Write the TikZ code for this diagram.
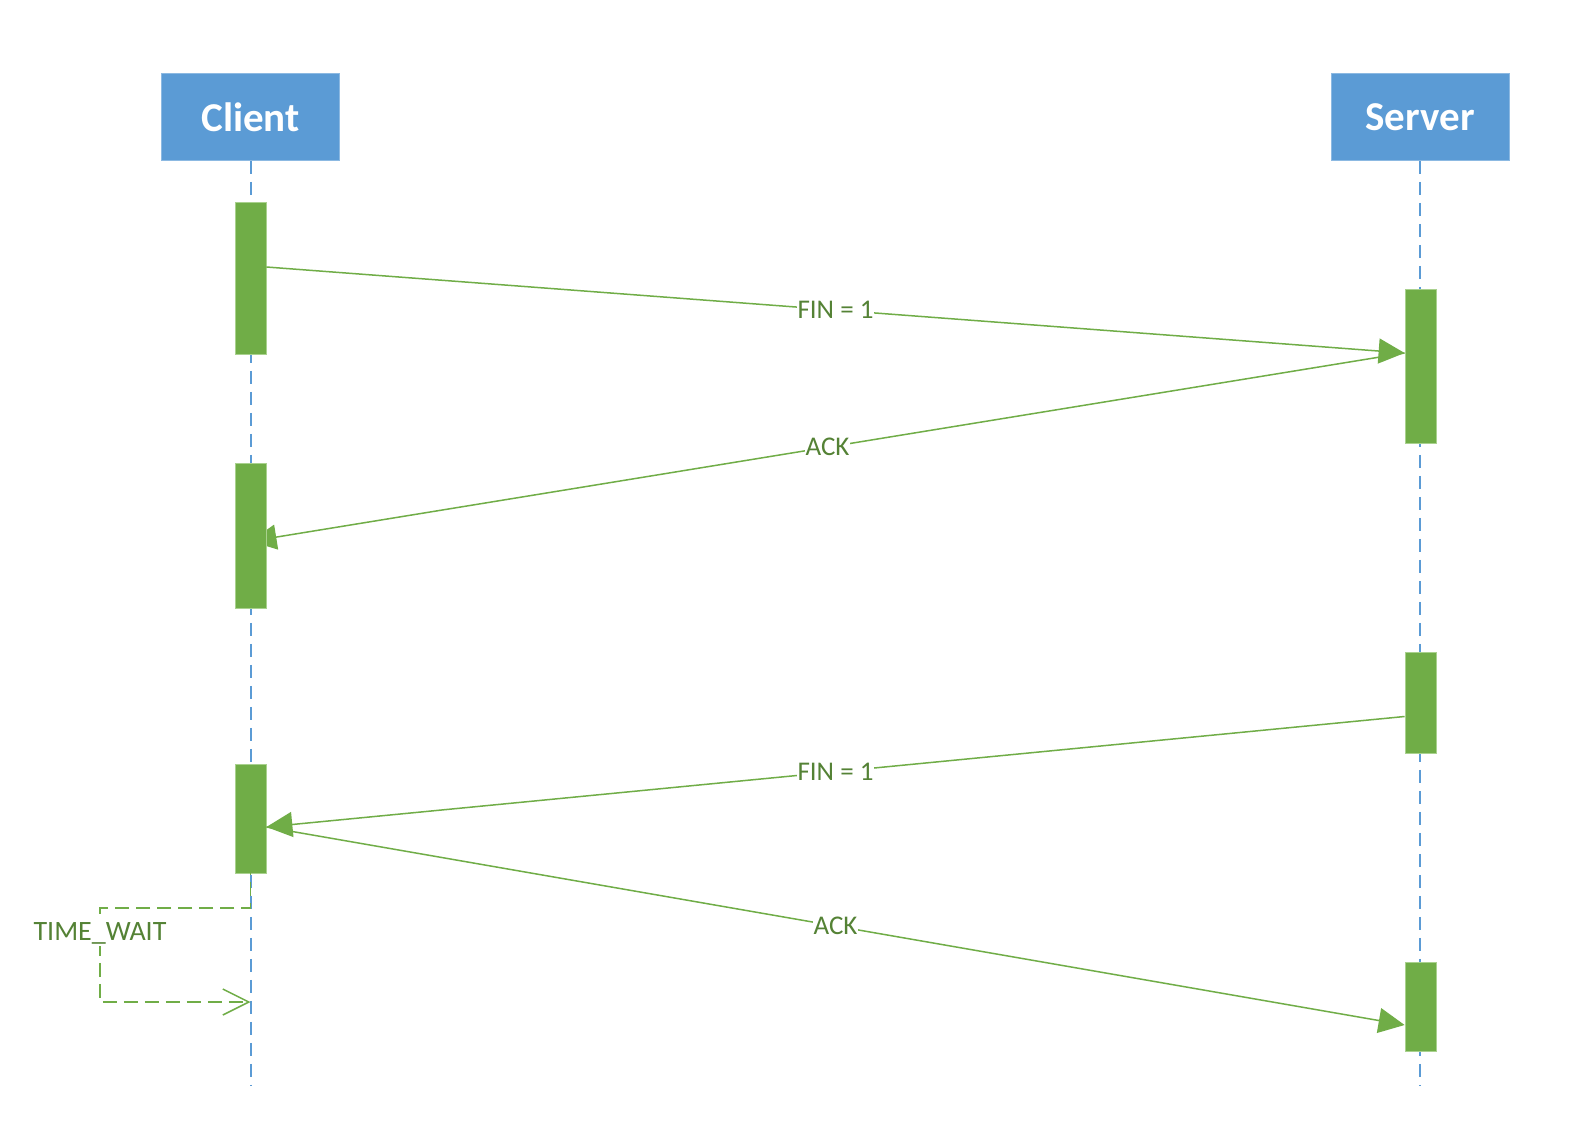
\documentclass[tikz,border=0pt]{standalone}
\usepackage{fontspec}
\setmainfont{Carlito}
\usetikzlibrary{arrows.meta}
\pgfdeclarelayer{canvas}
\pgfdeclarelayer{background}
\pgfsetlayers{canvas,background,main}
\definecolor{lifeblue}{HTML}{5B9BD5}
\definecolor{msggreen}{HTML}{70AD47}
\definecolor{baredge}{HTML}{A9D18E}
\definecolor{labelgreen}{HTML}{548235}
\tikzset{
  actor/.style={fill=lifeblue, draw=lifeblue!70!white, line width=0.8pt,
    minimum width=178pt, minimum height=87pt, inner sep=0pt,
    text=white, font=\fontsize{41}{49}\selectfont\bfseries},
  lifeline/.style={draw=lifeblue, line width=2pt, dash pattern=on 13pt off 8pt},
  activation/.style={fill=msggreen, draw=baredge, line width=0.8pt,
    minimum width=31pt, inner sep=0pt},
  msg/.style={draw=msggreen, line width=1.5pt,
    -{Triangle[length=26pt,width=25pt]}},
  msglabel/.style={fill=white, inner sep=1pt, text=labelgreen,
    font=\fontsize{27}{32}\selectfont},
  selfmsg/.style={draw=msggreen, line width=1.5pt, dash pattern=on 14pt off 7pt,
    -{Straight Barb[length=26pt,width=26pt,line width=1.5pt]}}
}
\begin{document}
\begin{tikzpicture}[x=1pt,y=-1pt]
  \begin{pgfonlayer}{canvas}
    \fill[white] (0,0) rectangle (1591,1129);
  \end{pgfonlayer}
  \useasboundingbox (0,0) rectangle (1591,1129);

  % participants
  \node[actor] (client) at (250.5,117) {Client};
  \node[actor] (server) at (1420,117) {Server};

  % activation bars
  \node[activation, minimum height=152pt] (cb1) at (250.5,278) {};
  \node[activation, minimum height=154pt] (sb1) at (1420.5,366) {};
  \node[activation, minimum height=145pt] (cb2) at (250.5,535.5) {};
  \node[activation, minimum height=101pt] (sb2) at (1420.5,702.5) {};
  \node[activation, minimum height=109pt] (cb3) at (250.5,818.5) {};
  \node[activation, minimum height=89pt] (sb3) at (1420.5,1006.5) {};

  % lifelines and the first ACK run behind the bars
  \coordinate (cend) at (250.5,1086);
  \coordinate (send) at (1420,1086);
  \begin{pgfonlayer}{background}
    \draw[lifeline] (client.south) -- (cend);
    \draw[lifeline] (server.south) -- (send);
    \draw[msg] ([yshift=13pt]sb1.west) -- node[msglabel] {ACK} ([yshift=-5.8pt]cb2.center);
  \end{pgfonlayer}

  % messages
  \draw[msg] ([yshift=11pt]cb1.east) -- node[msglabel] {FIN = 1} ([yshift=13pt]sb1.west);
  \draw[msg] ([yshift=-14pt]sb2.west) -- node[msglabel] {FIN = 1} ([yshift=-8.5pt]cb3.east);
  \draw[msg] ([yshift=-8.5pt]cb3.east) -- node[msglabel] {ACK} ([yshift=-18.5pt]sb3.west);

  % TIME_WAIT self message
  \coordinate (tw1) at (250.5,908);
  \coordinate (tw2) at (100,908);
  \coordinate (tw3) at (100,1002);
  \coordinate (tw4) at (250.5,1002);
  \draw[selfmsg] ([yshift=12pt]cb3.south) -- (tw1) -- (tw2) -- (tw3) -- (tw4);
  \node[msglabel, inner sep=2pt, font=\fontsize{28}{33}\selectfont] (twlabel) at (100,933) {TIME\_WAIT};
\end{tikzpicture}
\end{document}
